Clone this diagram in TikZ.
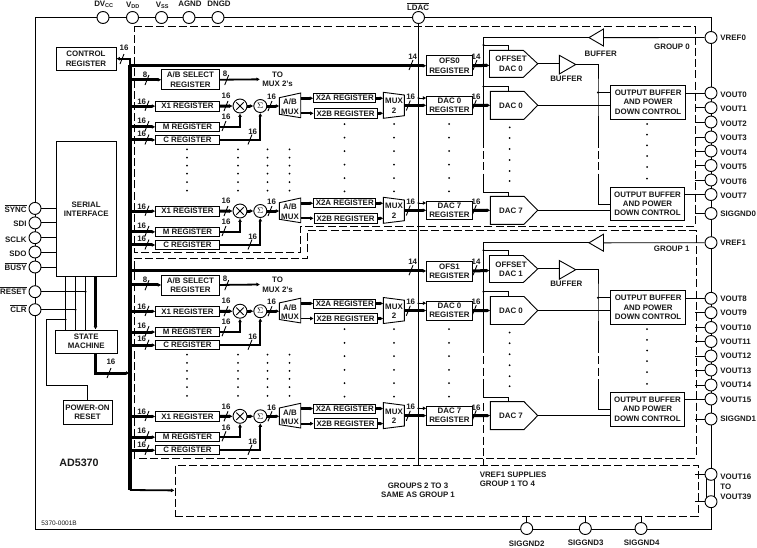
\documentclass[tikz,border=0pt]{standalone}
\usepackage{fontspec}
\setmainfont{Liberation Sans}
\usetikzlibrary{arrows.meta}
\newcounter{lblc}
\newcommand\ovl[1]{\leavevmode\vbox{\hrule height .6pt\kern 1.2pt\hbox{#1}}}
\tikzset{
  thk/.style={line width=3pt},
  med/.style={line width=1.8pt},
  tip/.style={-{Latex[length=4pt,width=4.5pt]}},
  stip/.style={-{Latex[length=3.5pt,width=4pt]}},
  txt/.style={font=\fontsize{7.9}{9.2}\selectfont\bfseries, text=black!90, inner sep=0pt, align=center},
  bx/.style n args={2}{draw, fill=white, txt, anchor=north west, minimum width=#1pt, minimum height=#2pt},
  pinc/.style={circle, draw, fill=white, minimum size=12pt, inner sep=0pt},
  opc/.style={circle, draw, fill=white, minimum size=#1pt, inner sep=0pt},
  dsh/.style={dash pattern=on 8pt off 3.2pt, line width=.8pt},
}
% slash with width label: slash x, slash y, label x, label y, text
\newcommand\bsl[5]{%
  \draw (#1-2,#2+5) -- (#1+2,#2-5);
  \stepcounter{lblc}\node[txt] (lbl\thelblc) at (#3,#4) {#5};}
% one channel: suffix, dy, dac number
\newcommand\chan[3]{%
\begin{scope}[shift={(0,#2)}]
  \node[bx={63.4}{10}] (xa#1) at (155.3,100.7) {X1 REGISTER};
  \node[bx={63.4}{9.4}] (mr#1) at (155.3,121.7) {M REGISTER};
  \node[bx={63.4}{9}] (cr#1) at (155.3,135) {C REGISTER};
  \node[opc=14] (mul#1) at (240,106) {};
  \draw[shorten <=2.2pt, shorten >=2.2pt] (mul#1.north west) -- (mul#1.south east);
  \draw[shorten <=2.2pt, shorten >=2.2pt] (mul#1.north east) -- (mul#1.south west);
  \node[opc=13] (sum#1) at (260.3,106) {\fontsize{8}{8}\selectfont$\Sigma$};
  \draw[thk,stip] (busT |- xa#1.west) -- (xa#1.west);
  \draw[thk,stip] (busT |- mr#1.west) -- (mr#1.west);
  \draw[thk,stip] (busT |- cr#1.west) -- (cr#1.west);
  \bsl{147}{105.7}{141.7}{101.3}{16}
  \bsl{147}{126}{141.7}{120.3}{16}
  \bsl{147}{139.5}{141.7}{134}{16}
  \draw[thk,stip] (xa#1.east) -- (mul#1.west);
  \draw[med,stip] (mr#1.east) -| (mul#1.south);
  \draw[med,stip] (cr#1.east) -| (sum#1.south);
  \draw[thk,stip] (mul#1.east) -- (sum#1.west);
  \bsl{226}{106}{226}{96}{16}
  \bsl{224}{126}{226}{117}{16}
  \bsl{250}{139.5}{252.7}{131.5}{16}
  % A/B mux
  \draw[fill=white] (279.3,97.7) -- (300.7,93) -- (300.7,117.7) -- (279.3,114.3) -- cycle;
  \node[txt] (abm#1) at (290,106.7) {A/B\\MUX};
  \coordinate (abin#1) at (279.3,106);
  \coordinate (abo#1) at (300.7,106);
  \draw[thk,stip] (sum#1.east) -- (abin#1);
  \bsl{270}{106}{271.5}{97}{16}
  \node[bx={62}{9}] (xta#1) at (313.3,93.3) {X2A REGISTER};
  \node[bx={63}{9.7}] (xtb#1) at (313.7,108) {X2B REGISTER};
  \draw[thk,stip] (abo#1 |- xta#1.west) -- (xta#1.west);
  \draw[med,stip] (abo#1 |- xtb#1.west) -- (xtb#1.west);
  % mux 2
  \draw[fill=white] (383.3,92.3) -- (404.3,95) -- (404.3,115.7) -- (383.3,118.3) -- cycle;
  \node[txt] (mxt#1) at (394,105.8) {MUX\\2};
  \coordinate (mxin#1) at (383.3,0);
  \coordinate (mxo#1) at (404.3,105.3);
  \draw[thk,stip] (xta#1.east) -- (mxin#1 |- xta#1.east);
  \draw[thk,stip] (xtb#1.east) -- (mxin#1 |- xtb#1.east);
  % DAC register
  \node[bx={45.4}{18.8}] (dr#1) at (426.3,95.5) {DAC #3\\REGISTER};
  \draw[thk,stip] (mxo#1) -- (mxo#1 -| dr#1.west);
  \bsl{408.3}{105.5}{410.7}{96.7}{16}
  \coordinate (ldt#1) at (418.5,98);
  \fill (ldt#1) circle (1.2pt);
  \draw[stip] (ldt#1) -- (ldt#1 -| dr#1.west);
  % DAC
  \draw[fill=white] (490.3,91.3) -- (524,91.3) -- (537.7,105.3) -- (524,119.3) -- (490.3,119.3) -- cycle;
  \node[txt] (dc#1) at (511,105.3) {DAC #3};
  \coordinate (dcin#1) at (490.3,105.3);
  \coordinate (dctip#1) at (537.7,105.3);
  \coordinate (dctop#1) at (508.7,91.3);
  \draw[thk,stip] (dr#1.east) -- (dcin#1);
  \bsl{474.3}{105}{476}{97}{16}
\end{scope}}
% one group: suffix, dy, number, pin name, first channel, second channel
\newcommand\grp[6]{%
\begin{scope}[shift={(0,#2)}]
  % A/B select
  \node[bx={57.4}{20}] (abs#1) at (161.3,69.3) {A/B SELECT\\REGISTER};
  \draw[thk,stip] (busT |- abs#1.west) -- (abs#1.west);
  \bsl{147}{80}{145}{75}{8}
  \coordinate (tomux#1) at (260,79.3);
  \draw[med,stip] (abs#1.east) -- (tomux#1);
  \bsl{226.7}{80}{225}{74}{8}
  \node[txt] (tmx#1) at (277.5,79.5) {TO\\MUX 2's};
  % dots
  \foreach \x in {187,238,267.5,289.5} \foreach \y in {149.3,157.7,165.7,173.7,182,190.7} \fill (\x,\y) circle (1pt);
  \foreach \x in {344.5,394,449} \foreach \y in {124,137.7,151,164.7,178,191.3} \fill (\x,\y) circle (1pt);
  \foreach \y in {127.3,138,149,160,171,181} \fill (509.7,\y) circle (1pt);
  \foreach \y in {124,134.7,145.3,156,167,178.7} \fill (647,\y) circle (1pt);
  % OFS
  \node[bx={45.4}{20}] (ofs#1) at (426.3,55.3) {OFS#3\\REGISTER};
  \draw[thk,stip] (busT |- ofs#1.west) -- (ofs#1.west);
  \bsl{411}{65}{412.7}{57}{14}
  \draw[fill=white] (489.5,50.3) -- (523.3,50.3) -- (537.7,63.7) -- (523.3,77.3) -- (489.5,77.3) -- cycle;
  \node[txt] (odt#1) at (511,63.7) {OFFSET\\DAC #3};
  \coordinate (oin#1) at (489.5,65.3);
  \coordinate (otip#1) at (537.7,63.7);
  \coordinate (otop#1) at (508.7,50.3);
  \draw[thk,stip] (ofs#1.east) -- (oin#1);
  \bsl{475}{65}{476}{57}{14}
  % reference buffer
  \draw[fill=white] (589,37.6) -- (603.5,29) -- (603.5,46) -- cycle;
  \coordinate (vbase#1) at (603.5,37.6);
  \coordinate (vtip#1) at (589,37.6);
  \draw (#4.west) -- (vbase#1);
  % reference rail
  \coordinate (ra#1) at (483.5,45);
  \coordinate (rb#1) at (483.5,86.5);
  \coordinate (rc#1) at (483.5,192);
  \draw (vtip#1) -| (ra#1) -- (rb#1) -- (483.5,140);
  \draw[dsh] (483.5,140) -- (483.5,178);
  \draw (483.5,178) -- (rc#1) -| (dctop#6);
  \draw (ra#1) -| (otop#1);
  \draw (rb#1) -| (dctop#5);
  \fill (ra#1) circle (1.2pt);
  \fill (rb#1) circle (1.2pt);
  % offset buffer
  \draw[fill=white] (559.3,55.3) -- (575.7,64.5) -- (559.3,74) -- cycle;
  \coordinate (bbase#1) at (559.3,63.7);
  \coordinate (btip#1) at (575.7,64.5);
  \draw (otip#1) -- (bbase#1);
  \node[txt] (bl#1) at (566.3,79) {BUFFER};
  % output boxes
  \node[bx={74.7}{34}] (oba#1) at (610.3,84.7) {\fontsize{7.9}{9.7}\selectfont OUTPUT BUFFER\\AND POWER\\DOWN CONTROL};
  \node[bx={74.7}{33.6}] (obb#1) at (609.7,186.7) {\fontsize{7.9}{9.7}\selectfont OUTPUT BUFFER\\AND POWER\\DOWN CONTROL};
  \coordinate (rd#1) at (598,92.5);
  \draw (btip#1) -| (rd#1) -- (598,140);
  \draw[dsh] (598,140) -- (598,174);
  \draw (598,174) |- (obb#1.west);
  \draw (rd#1) -- (rd#1 -| oba#1.west);
  \fill (rd#1) circle (1.2pt);
  \draw (dctip#5) -- (dctip#5 -| oba#1.west);
  \draw (dctip#6) -- (dctip#6 -| obb#1.west);
\end{scope}}
\begin{document}
\begin{tikzpicture}[x=1pt,y=-1pt,line width=.9pt]
\useasboundingbox (0,0) rectangle (757,547);
% outer frame
\draw (711.5,474) -- (711.5,17.5) -- (35.5,17.5) -- (35.5,529) -- (711.5,529) -- (711.5,502);
\draw (706,474) -- (706,502);
\draw (714.7,474) -- (714.7,502);
% dashed groups
\draw[dsh] (134,26.5) -- (695,26.5) -- (695,226) -- (300.5,226) -- (300.5,252) -- (134,252) -- cycle;
\draw[dsh] (134,258) -- (307.5,258) -- (307.5,230.5) -- (696,230.5) -- (696,458) -- (134,458) -- cycle;
\node[draw,dsh,minimum width=523pt,minimum height=51pt,anchor=north west,inner sep=0pt] (gr) at (174.5,464.5) {};
\draw[dsh] (483.5,403) -- (483.5,464.5);
% top pins
\node[pinc] (dvcc) at (103,17.5) {};
\node[pinc] (vdd) at (132.5,17.5) {};
\node[pinc] (vss) at (161.5,17.5) {};
\node[pinc] (agnd) at (189,17.5) {};
\node[pinc] (dngd) at (218,17.5) {};
\node[pinc] (ldac) at (418.5,17.5) {};
\node[txt] (tdv) at (104,4.5) {DV\textsubscript{CC}};
\node[txt] (tvd) at (133,5) {V\textsubscript{DD}};
\node[txt] (tvs) at (162.5,5) {V\textsubscript{SS}};
\node[txt] (tag) at (190,4) {AGND};
\node[txt] (tdn) at (219,4) {DNGD};
\node[txt,anchor=base] (tld) at (418,10) {\ovl{LDAC}};
\coordinate (ldend) at (418.5,464.5);
\draw (ldac.south) -- (ldend);
% bus
\coordinate (busT) at (130,65);
\coordinate (busB) at (130,490);
\coordinate (busSM) at (129.5,373);
\draw[line width=3.2pt] (busT) -- (busB);
\draw[med,stip] (busB) -- (gr.west);
% left boxes
\node[bx={60}{22.5}] (ctrl) at (55.5,47) {CONTROL\\REGISTER};
\node[bx={60.5}{135}] (serial) at (55.5,141) {SERIAL\\INTERFACE};
\node[bx={61.5}{23}] (state) at (55,329.5) {STATE\\MACHINE};
\node[bx={49}{23.5}] (por) at (62.5,400) {POWER-ON\\RESET};
\draw[med,{Latex[length=3.5pt,width=4pt]}-] (ctrl.east) -| (busT);
\bsl{122}{59}{124}{48}{16}
% left pins
\node[pinc] (sync) at (35,208.4) {};
\node[pinc] (sdi) at (35,222.9) {};
\node[pinc] (sclk) at (35,237.7) {};
\node[pinc] (sdo) at (35,252) {};
\node[pinc] (busy) at (35,267) {};
\node[pinc] (reset) at (35,291.7) {};
\node[pinc] (clr) at (35,309.7) {};
\node[txt,anchor=base east] (tsy) at (27,212.7) {\ovl{SYNC}};
\node[txt,anchor=base east] (tsd) at (27,226.8) {SDI};
\node[txt,anchor=base east] (tsc) at (27,242.2) {SCLK};
\node[txt,anchor=base east] (tso) at (27,256.8) {SDO};
\node[txt,anchor=base east] (tbu) at (27,270.8) {\ovl{BUSY}};
\node[txt,anchor=base east] (tre) at (27,294.8) {\ovl{RESET}};
\node[txt,anchor=base east] (tcl) at (27,312.6) {\ovl{CLR}};
\foreach \p in {sync,sdi,sclk,sdo,busy} \draw (\p.east) -- (\p.east -| serial.west);
\coordinate (da) at (65.5,319.5);
\coordinate (db) at (75.5,309.7);
\coordinate (dc) at (85.5,291.7);
\coordinate (smx) at (95.5,300);
\draw (reset.east) -- (dc);
\draw (clr.east) -- (db);
\foreach \p in {da,db,dc} {\draw (\p |- serial.south) -- (\p |- state.north); \fill (\p) circle (1.2pt);}
\coordinate (pa) at (46.5,319.5);
\coordinate (pb) at (46.5,385.7);
\draw (por.north) |- (pb) -- (pa) -- (da);
\draw[thk,stip] (smx |- serial.south) -- (smx |- state.north);
\draw[thk,stip] (smx |- state.south) |- (busSM);
\bsl{109}{373}{111}{362}{16}
% right pins
\node[pinc] (vref0) at (711,37.5) {};
\node[pinc] (vout0) at (711,93) {};
\node[pinc] (vout1) at (711,107.7) {};
\node[pinc] (vout2) at (711,122) {};
\node[pinc] (vout3) at (711,137) {};
\node[pinc] (vout4) at (711,151) {};
\node[pinc] (vout5) at (711,165.5) {};
\node[pinc] (vout6) at (711,180) {};
\node[pinc] (vout7) at (711,194.5) {};
\node[pinc] (sg0) at (711,213.5) {};
\node[pinc] (vref1) at (711,242.7) {};
\node[pinc] (vout8) at (711,298.3) {};
\node[pinc] (vout9) at (711,312.7) {};
\node[pinc] (vout10) at (711,327.5) {};
\node[pinc] (vout11) at (711,341.5) {};
\node[pinc] (vout12) at (711,356) {};
\node[pinc] (vout13) at (711,370) {};
\node[pinc] (vout14) at (711,385) {};
\node[pinc] (vout15) at (711,399) {};
\node[pinc] (sg1) at (711,419) {};
\node[pinc] (vout16) at (711,474.3) {};
\node[pinc] (vout39) at (711,501.7) {};
\foreach \n/\t/\y in {vr0/VREF0/37.7,v0/VOUT0/95,v1/VOUT1/109,v2/VOUT2/124,v3/VOUT3/138,v4/VOUT4/153,v5/VOUT5/167,v6/VOUT6/181.5,v7/VOUT7/196,s0/SIGGND0/214,vr1/VREF1/243,v8/VOUT8/299,v9/VOUT9/313,v10/VOUT10/328,v11/VOUT11/342,v12/VOUT12/356,v13/VOUT13/370.5,v14/VOUT14/385,v15/VOUT15/400,s1/SIGGND1/419,v16/VOUT16/476.7,vto/TO/486.7,v39/VOUT39/496.7}
  \node[txt,anchor=west] (t\n) at (720,\y) {\t};
\foreach \p in {vout1,vout2,vout3,vout4,vout5,vout6,sg0,vout9,vout10,vout11,vout12,vout13,vout14,sg1,vout16,vout39}
  \draw (\p.west) -- ++(-9.5,0);
% bottom pins
\node[pinc] (sg2) at (526.7,528.5) {};
\node[pinc] (sg3) at (585.3,528.5) {};
\node[pinc] (sg4) at (641,528.5) {};
\foreach \p in {sg2,sg3,sg4} \draw (\p.north) -- (\p.north |- gr.south);
\node[txt] (tg2) at (526.7,543.5) {SIGGND2};
\node[txt] (tg3) at (585.7,543) {SIGGND3};
\node[txt] (tg4) at (641.7,543) {SIGGND4};
% channels and groups
\chan{a0}{0}{0}
\chan{a7}{105}{7}
\chan{b0}{205.2}{0}
\chan{b7}{310.3}{7}
\grp{ga}{0}{0}{vref0}{a0}{a7}
\grp{gb}{205.2}{1}{vref1}{b0}{b7}
\draw (obaga.east |- vout0) -- (vout0.west);
\draw (obbga.east |- vout7) -- (vout7.west);
\draw (obagb.east |- vout8) -- (vout8.west);
\draw (obbgb.east |- vout15) -- (vout15.west);
% free texts
\node[txt] (tb0) at (600.7,53.7) {BUFFER};
\node[txt] (tg0) at (672,47) {GROUP 0};
\node[txt] (tg1) at (671.7,249) {GROUP 1};
\node[txt] (tg23) at (418,490) {GROUPS 2 TO 3\\SAME AS GROUP 1};
\node[txt,align=left,anchor=west] (tvs1) at (479.3,479) {VREF1 SUPPLIES\\GROUP 1 TO 4};
\node[txt,font=\fontsize{10.7}{12}\selectfont\bfseries] (tad) at (79,463) {AD5370};
\node[txt,font=\fontsize{6.5}{8}\selectfont] (tnum) at (59,523.5) {5370-0001B};
\end{tikzpicture}
\end{document}
